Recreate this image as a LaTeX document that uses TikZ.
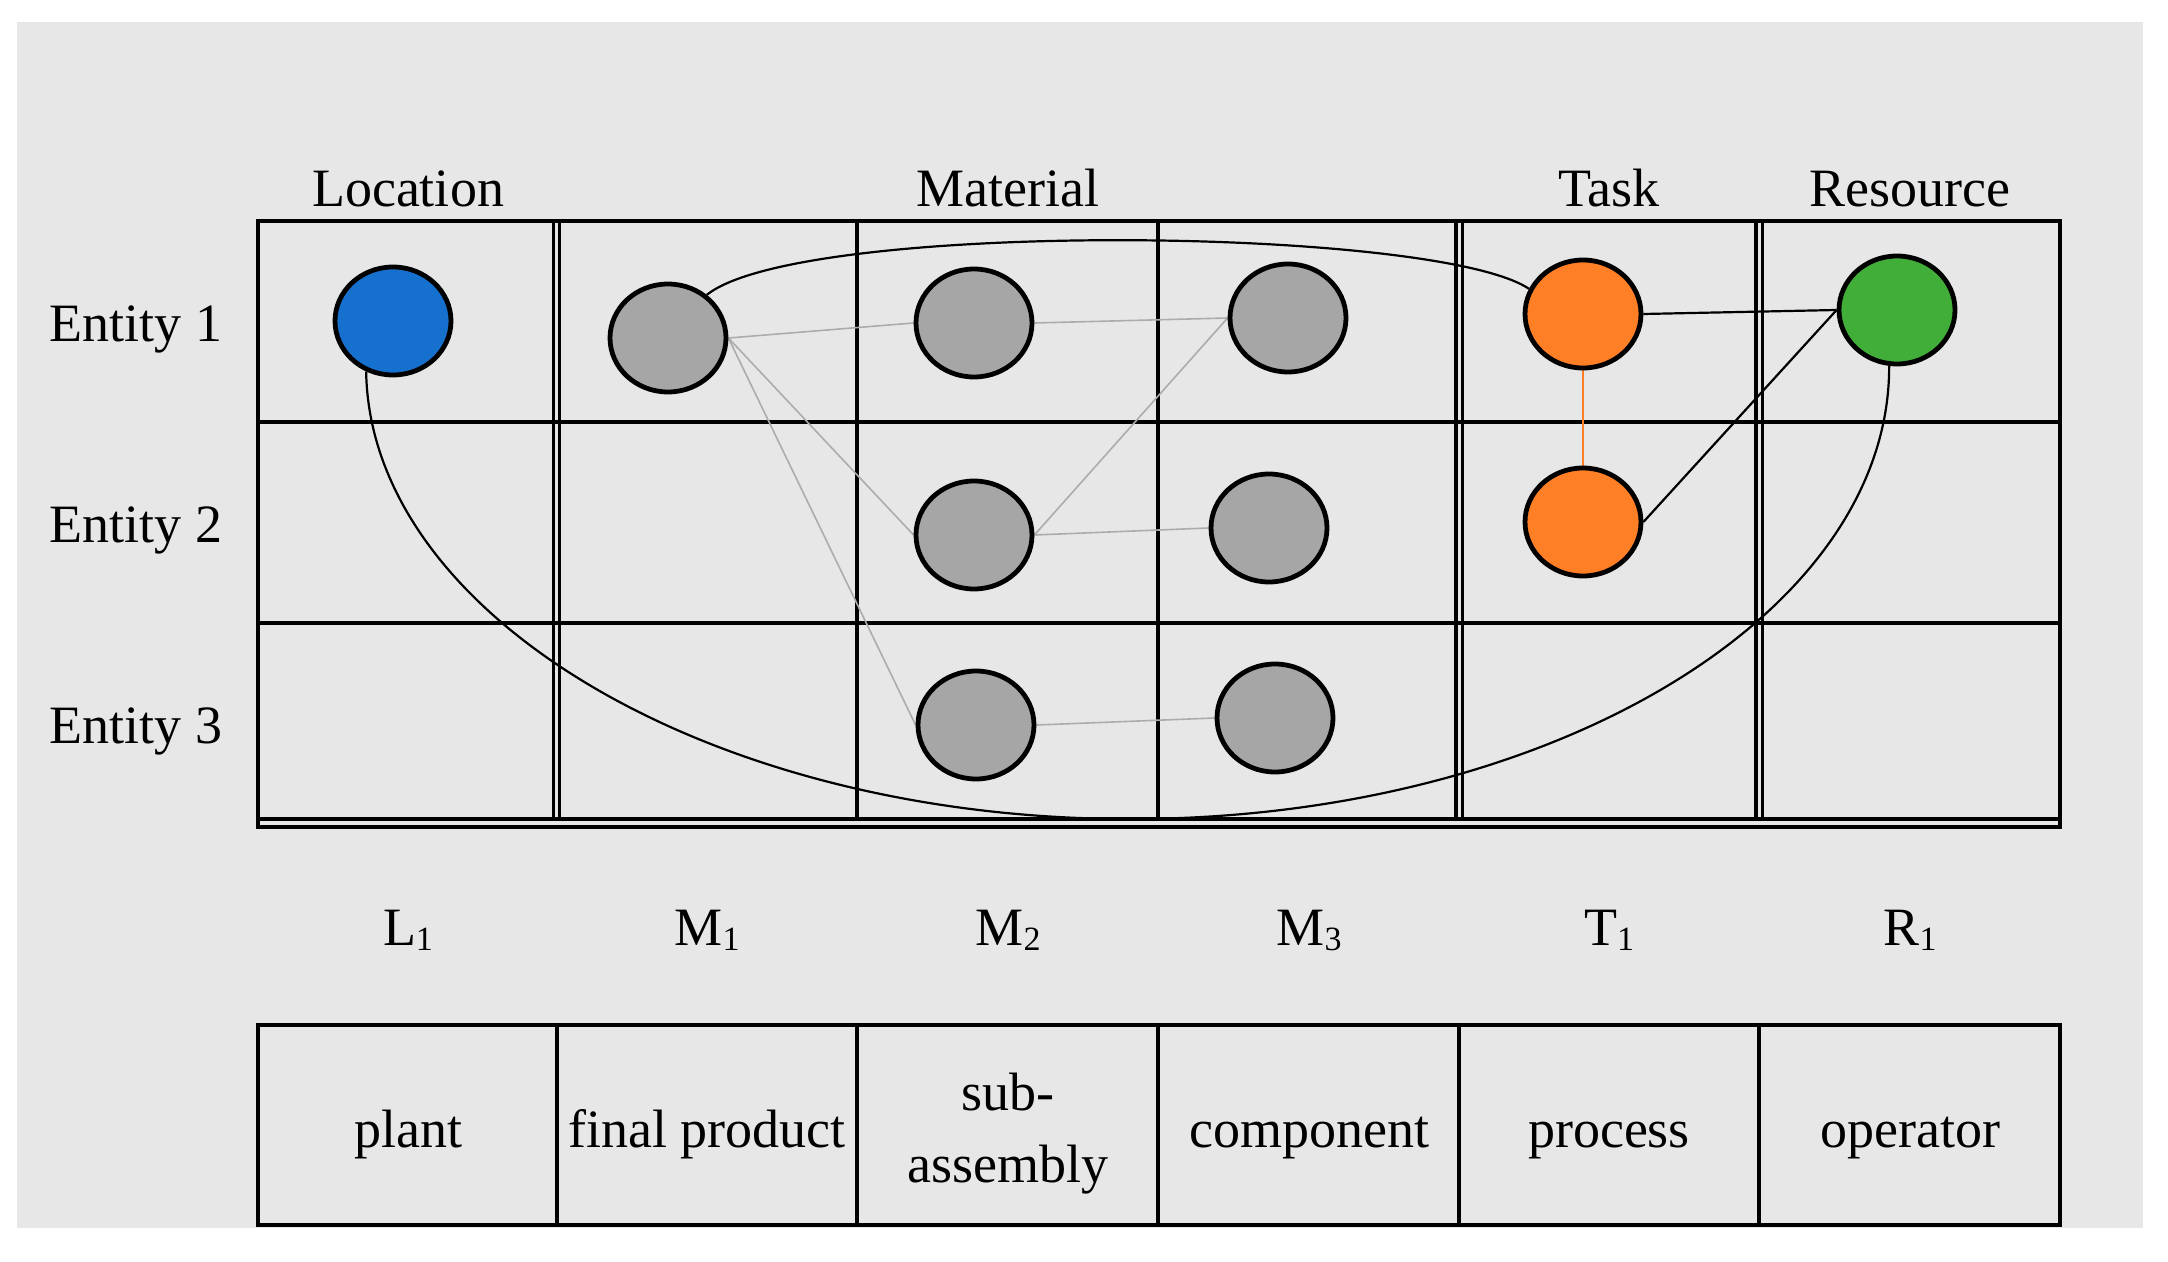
\documentclass[tikz,border=0pt]{standalone}
\usepackage{fontspec}
\setmainfont{Liberation Serif}
\usetikzlibrary{shapes.geometric}
\definecolor{bgc}{RGB}{231,231,231}
\definecolor{cblue}{RGB}{22,113,206}
\definecolor{corange}{RGB}{255,127,39}
\definecolor{cgreen}{RGB}{65,174,58}
\definecolor{cgray}{RGB}{166,166,166}
\definecolor{lgray}{RGB}{172,172,172}
\newcommand{\sbs}[1]{\raisebox{-2.5pt}{\fontsize{17}{17}\selectfont #1}}
\pgfdeclarelayer{edges}
\pgfsetlayers{edges,main}
\begin{document}
\begin{tikzpicture}[x=0.5pt,y=-0.5pt,
  font=\fontsize{27}{32}\selectfont,
  ent/.style={ellipse, draw=black, line width=2.4pt, minimum width=58pt, minimum height=54pt, inner sep=0pt},
  gl/.style={draw=lgray, line width=0.8pt},
  ol/.style={draw=corange, line width=0.8pt},
  bl/.style={draw=black, line width=1.1pt},
  frame/.style={line width=1.9pt},
  grid/.style={line width=1.7pt},
  lbl/.style={anchor=base, inner sep=0pt}]
\useasboundingbox (0,0) rectangle (2168,1262);
\begin{pgfonlayer}{edges}
\fill[white] (0,0) rectangle (2168,1262);
\fill[bgc] (17,22) rectangle (2143,1228);
% top table
\draw[frame] (258,221) rectangle (2060,827);
\draw[line width=2.2pt] (258,827) -- (2060,827);
\draw[grid] (258,819) -- (2060,819);
\draw[grid] (258,422) -- (2060,422);
\draw[grid] (258,623) -- (2060,623);
\foreach \cx in {553.5,559.5,857,1158,1456,1462.5,1756,1762.5}
  \draw[grid] (\cx,221) -- (\cx,819);
% bottom table
\draw[frame] (258,1025) rectangle (2060,1225);
\foreach \cx in {557,857,1158,1459,1759}
  \draw[grid] (\cx,1025) -- (\cx,1225);
\end{pgfonlayer}
% headers
\node[lbl] (hLoc) at (408,207) {Location};
\node[lbl] (hMat) at (1008,207) {Material};
\node[lbl] (hTask) at (1609,207) {Task};
\node[lbl] (hRes) at (1910,207) {Resource};
\node[lbl] (e1) at (136,342) {Entity 1};
\node[lbl] (e2) at (136,542) {Entity 2};
\node[lbl] (e3) at (136,743) {Entity 3};
% symbols
\node[lbl] (sL) at (408,945) {L\sbs{1}};
\node[lbl] (sM1) at (707,945) {M\sbs{1}};
\node[lbl] (sM2) at (1008,945) {M\sbs{2}};
\node[lbl] (sM3) at (1309,945) {M\sbs{3}};
\node[lbl] (sT) at (1609,945) {T\sbs{1}};
\node[lbl] (sR) at (1910,945) {R\sbs{1}};
% bottom labels
\node[lbl] (bP) at (408,1147) {plant};
\node[lbl] (bF) at (707,1147) {final product};
\node[lbl] (bS1) at (1008,1110) {sub-};
\node[lbl] (bS2) at (1008,1182) {assembly};
\node[lbl] (bC) at (1309,1147) {component};
\node[lbl] (bPr) at (1609,1147) {process};
\node[lbl] (bO) at (1910,1147) {operator};
% entities
\node[ent, fill=cblue] (L1) at (393,321) {};
\node[ent, fill=cgray] (M1) at (668,338) {};
\node[ent, fill=cgray] (M2a) at (974,323) {};
\node[ent, fill=cgray] (M2b) at (974,535) {};
\node[ent, fill=cgray] (M2c) at (976,725) {};
\node[ent, fill=cgray] (M3a) at (1288,318) {};
\node[ent, fill=cgray] (M3b) at (1269,528) {};
\node[ent, fill=cgray] (M3c) at (1275,718) {};
\node[ent, fill=corange] (T1a) at (1583,314) {};
\node[ent, fill=corange] (T1b) at (1583,522) {};
\node[ent, fill=cgreen] (R1a) at (1897,310) {};
\begin{pgfonlayer}{edges}
\draw[gl] (M1.east) -- (M2a.west);
\draw[gl] (M1.east) -- (M2b.west);
\draw[gl] (M1.east) -- (M2c.west);
\draw[gl] (M2a.east) -- (M3a.west);
\draw[gl] (M2b.east) -- (M3a.west);
\draw[gl] (M2b.east) -- (M3b.west);
\draw[gl] (M2c.east) -- (M3c.west);
\draw[ol] (T1a.south) -- (T1b.north);
\draw[bl] (T1a.east) -- (R1a.west);
\draw[bl] (T1b.east) -- (R1a.west);
\draw[bl] (M1.48) .. controls (800,220) and (1435,226) .. (T1a.155);
\coordinate (bot) at (1130,819);
\draw[bl] (L1.242) .. controls (370,615) and (710,819) .. (bot) .. controls (1550,819) and (1890,615) .. (R1a.262);
\end{pgfonlayer}
\end{tikzpicture}
\end{document}
